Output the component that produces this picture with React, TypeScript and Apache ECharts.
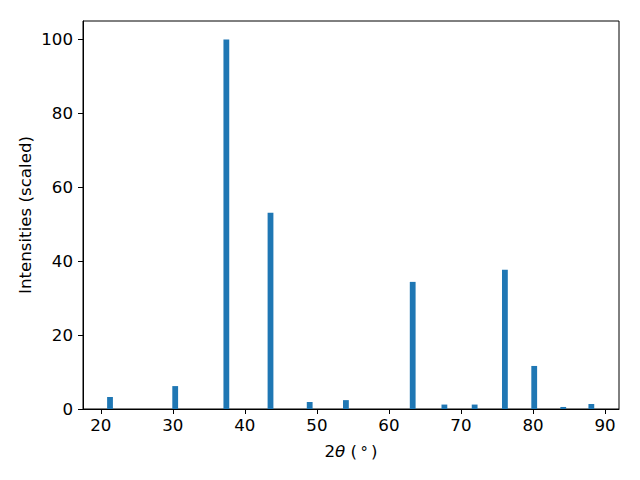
import React, { useEffect, useRef } from "react";
import * as echarts from "echarts";

const twoTheta = [21.28, 30.33, 37.43, 43.56, 49.0, 54.03, 63.3, 67.7, 71.9, 76.1, 80.17, 84.2, 88.1];
const intensities = [3.25, 6.2, 100, 53.1, 1.9, 2.4, 34.4, 1.2, 1.2, 37.7, 11.65, 0.55, 1.35];
const xTicks = [20, 30, 40, 50, 60, 70, 80, 90];
const yTicks = [0, 20, 40, 60, 80, 100];

const FONT = "DejaVu Sans";
const FS = 16.67;

export default function App() {
  const ref = useRef<HTMLDivElement>(null);
  useEffect(() => {
    if (!ref.current) return;
    const chart = echarts.init(ref.current, undefined, { renderer: "svg" });
    chart.setOption({
      animation: false,
      textStyle: { fontFamily: FONT },
      grid: {
        left: 83,
        right: 21,
        top: 21,
        bottom: 71,
        show: true,
        borderColor: "#000",
        borderWidth: 1,
        backgroundColor: "#fff",
      },
      xAxis: {
        type: "value",
        min: 17.53,
        max: 91.94,
        name: "{n|2}{i|θ}{n| (\u2009}{s|°}{n|\u2009)}",
        nameLocation: "middle",
        nameGap: 34,
        nameMoveOverlap: false,
        nameTextStyle: {
          rich: {
            n: { fontFamily: FONT, fontSize: FS, color: "#000" },
            i: { fontFamily: FONT, fontStyle: "italic", fontSize: FS, color: "#000" },
            s: { fontFamily: FONT, fontSize: FS - 2, color: "#000" },
          },
        },
        axisLine: { show: true, lineStyle: { color: "#000", width: 1 } },
        axisTick: { show: true, inside: false, length: 5, lineStyle: { color: "#000" }, customValues: xTicks },
        axisLabel: { customValues: xTicks, color: "#000", fontSize: FS, fontFamily: FONT, margin: 8 },
        splitLine: { show: false },
      },
      yAxis: {
        type: "value",
        min: 0,
        max: 105,
        name: "Intensities (scaled)",
        nameLocation: "middle",
        nameGap: 49,
        nameMoveOverlap: false,
        nameTextStyle: { color: "#000", fontSize: FS, fontFamily: FONT },
        axisLine: { show: true, lineStyle: { color: "#000", width: 1 } },
        axisTick: { show: true, inside: false, length: 5, lineStyle: { color: "#000" }, customValues: yTicks },
        axisLabel: { customValues: yTicks, color: "#000", fontSize: FS, fontFamily: FONT, margin: 10 },
        splitLine: { show: false },
      },
      series: [
        {
          type: "bar",
          data: twoTheta.map((x, i) => [x, intensities[i]]),
          barWidth: 5.8,
          itemStyle: { color: "#1f77b4" },
        },
      ],
    });
    return () => chart.dispose();
  }, []);
  return <div ref={ref} style={{ width: 640, height: 480, position: "absolute", left: 0, top: 0 }} />;
}
